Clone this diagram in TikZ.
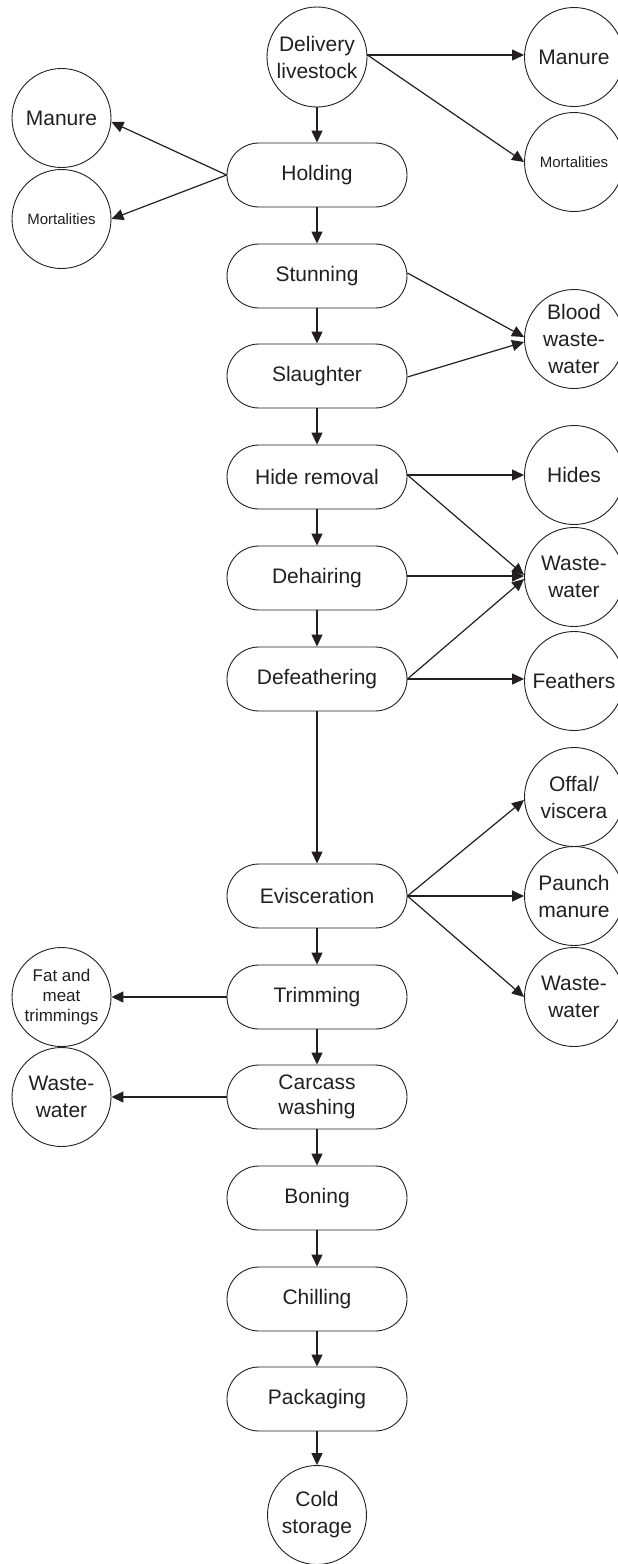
\documentclass[tikz,border=0pt]{standalone}
\usepackage{fontspec}
\setmainfont{Liberation Sans}
\usetikzlibrary{arrows.meta}
\definecolor{ink}{HTML}{231F20}
\begin{document}
\begin{tikzpicture}[x=1pt,y=-1pt,
  every node/.style={text=ink},
  proc/.style={draw=ink, line width=0.9pt, rounded corners=32pt, minimum width=180pt, minimum height=64pt, inner sep=0pt, align=center, font=\fontsize{21}{25}\selectfont},
  circR/.style={draw=ink, line width=0.9pt, circle, minimum size=99pt, inner sep=0pt, align=center, font=\fontsize{21}{27}\selectfont},
  small/.style={font=\fontsize{15}{18}\selectfont},
  smallb/.style={font=\fontsize{17}{20}\selectfont},
  arr/.style={draw=ink, line width=1.2pt, -{Triangle[length=12pt,width=11pt]}},
  ln/.style={draw=ink, line width=1.2pt}
]
\useasboundingbox (0,0) rectangle (618,1564);
% main column
\node[circR, minimum size=100pt] (deliv) at (317,57) {Delivery\\livestock};
\node[proc] (hold) at (317,175) {Holding};
\node[proc] (stun) at (317,276) {Stunning};
\node[proc] (slau) at (317,376) {Slaughter};
\node[proc] (hide) at (317,477) {Hide removal};
\node[proc] (dehair) at (317,578) {Dehairing};
\node[proc] (defeat) at (317,679) {Defeathering};
\node[proc] (evisc) at (317,896) {Evisceration};
\node[proc] (trim) at (317,997) {Trimming};
\node[proc] (wash) at (317,1097) {Carcass\\washing};
\node[proc] (bone) at (317,1198) {Boning};
\node[proc] (chill) at (317,1299) {Chilling};
\node[proc] (pack) at (317,1399) {Packaging};
\node[circR] (cold) at (317,1515) {Cold\\storage};
% right column
\node[circR] (manR) at (574,57) {Manure};
\node[circR, small] (morR) at (574,162) {Mortalities};
\node[circR] (blood) at (574,339) {Blood\\waste-\\water};
\node[circR] (hides) at (574,475) {Hides};
\node[circR] (wwA) at (574,577) {Waste-\\water};
\node[circR] (feath) at (574,681) {Feathers};
\node[circR] (offal) at (574,797) {Offal/\\viscera};
\node[circR] (paunch) at (574,896) {Paunch\\manure};
\node[circR] (wwB) at (574,997) {Waste-\\water};
% left column
\node[circR] (manL) at (61.5,118) {Manure};
\node[circR, small] (morL) at (61.5,219) {Mortalities};
\node[circR, smallb] (fat) at (61.5,997) {Fat and\\meat\\trimmings};
\node[circR] (wwC) at (61.5,1097) {Waste-\\water};
% vertical flow
\draw[arr] (deliv) -- (hold);
\draw[arr] (hold) -- (stun);
\draw[arr] (stun) -- (slau);
\draw[arr] (slau) -- (hide);
\draw[arr] (hide) -- (dehair);
\draw[arr] (dehair) -- (defeat);
\draw[arr] (defeat) -- (evisc);
\draw[arr] (evisc) -- (trim);
\draw[arr] (trim) -- (wash);
\draw[arr] (wash) -- (bone);
\draw[arr] (bone) -- (chill);
\draw[arr] (chill) -- (pack);
\draw[arr] (pack) -- (cold);
% side outputs
\draw[arr] ([yshift=2pt]deliv.east) -- ([yshift=2pt]manR.west);
\draw[arr] ([yshift=2pt]deliv.east) -- (morR.west);
\draw[arr] (hold.west) -- ([yshift=-4pt]manL.east);
\draw[arr] (hold.west) -- (morL.east);
\draw[arr] ([yshift=3pt]stun.east) -- ([yshift=2pt]blood.west);
\draw[arr] ([yshift=-1pt]slau.east) -- ([yshift=-3pt]blood.west);
\draw[arr] ([yshift=2pt]hide.east) -- (hides.west);
\draw[arr] ([yshift=2pt]hide.east) -- ([yshift=2pt]wwA.west);
\draw[arr] ([yshift=2pt]dehair.east) -- ([yshift=1pt]wwA.west);
\draw[arr] (defeat.east) -- ([yshift=-2pt]wwA.west);
\draw[arr] (defeat.east) -- ([yshift=2pt]feath.west);
\draw[arr] (evisc.east) -- ([yshift=-3pt]offal.west);
\draw[arr] (evisc.east) -- (paunch.west);
\draw[arr] (evisc.east) -- (wwB.west);
\draw[arr] (trim.west) -- (fat.east);
\draw[arr] (wash.west) -- (wwC.east);
\end{tikzpicture}
\end{document}
